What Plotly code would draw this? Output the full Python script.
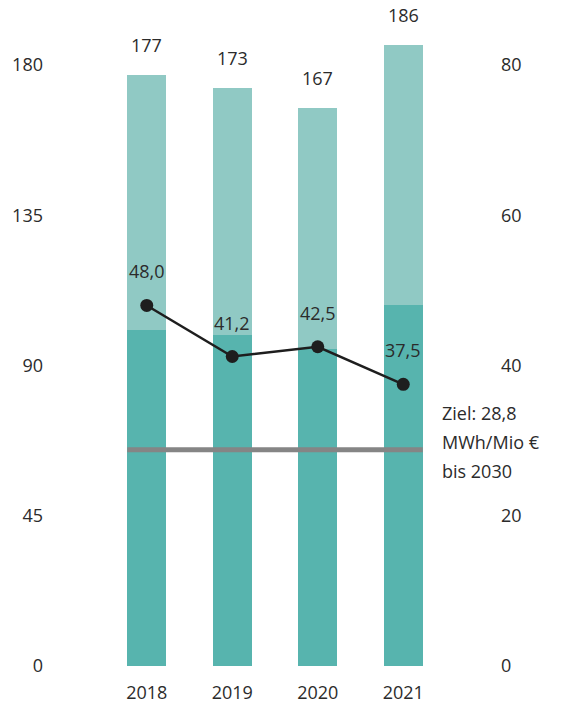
import plotly.graph_objects as go

years = ["2018", "2019", "2020", "2021"]
lower_part = [100.5, 99, 95, 108]
totals = [177, 173, 167, 186]
intensity = [48.0, 41.2, 42.5, 37.5]
target = 28.8
left_ticks = [0, 45, 90, 135, 180]
right_ticks = [0, 20, 40, 60, 80]
target_lines = ["Ziel: 28,8", "MWh/Mio €", "bis 2030"]

upper_part = [t - l for t, l in zip(totals, lower_part)]

FONT = "Open Sans"
TXT = "#2b2b2b"
DARK = "#57b4ae"
LIGHT = "#90c9c4"
BARGAP = 0.544
bar_w = 1 - BARGAP

fig = go.Figure()
fig.add_bar(x=years, y=lower_part, marker_color=DARK, marker_line_width=0, hoverinfo="skip")
fig.add_bar(x=years, y=upper_part, marker_color=LIGHT, marker_line_width=0, hoverinfo="skip")

fig.add_scatter(
    x=years, y=intensity, yaxis="y2", mode="lines+markers",
    line=dict(color="#1e1e1e", width=2.5),
    marker=dict(color="#1e1e1e", size=13),
    hoverinfo="skip",
)

annotations = []
for i, t in enumerate(totals):
    annotations.append(dict(x=i, y=t, xref="x", yref="y", text=str(t),
                            showarrow=False, yshift=30, yanchor="middle",
                            font=dict(family=FONT, size=18, color=TXT)))
for i, v in enumerate(intensity):
    annotations.append(dict(x=i, y=v, xref="x", yref="y2",
                            text=f"{v:.1f}".replace(".", ","),
                            showarrow=False, yshift=34, yanchor="middle",
                            font=dict(family=FONT, size=18, color=TXT)))
for i, line in enumerate(target_lines):
    annotations.append(dict(x=len(years) - 0.5, y=target, xref="x", yref="y2",
                            text=line, showarrow=False, xanchor="left",
                            xshift=-6, yanchor="middle", yshift=8 + 29 * (1 - i),
                            font=dict(family=FONT, size=18, color=TXT)))

fig.update_layout(
    width=567, height=704,
    margin=dict(l=104, r=121, t=15, b=38),
    barmode="stack", bargap=BARGAP,
    showlegend=False,
    plot_bgcolor="white", paper_bgcolor="white",
    font=dict(family=FONT, size=18, color=TXT),
    xaxis=dict(type="category", range=[-0.5, len(years) - 0.5], automargin=False,
               showgrid=False, showline=False, zeroline=False, ticks="",
               ticklabelstandoff=14, tickfont=dict(size=18, color=TXT)),
    yaxis=dict(range=[0, 195], tickvals=left_ticks, showgrid=False, zeroline=False,
               automargin=False, showline=False, ticklabelstandoff=60,
               tickfont=dict(size=18, color=TXT)),
    yaxis2=dict(range=[0, 195 * 80 / 180], tickvals=right_ticks, overlaying="y",
                side="right", showgrid=False, zeroline=False, showline=False,
                automargin=False, ticklabelstandoff=54,
                tickfont=dict(size=18, color=TXT)),
    shapes=[dict(type="line", xref="x", yref="y2",
                 x0=-bar_w / 2, x1=len(years) - 1 + bar_w / 2, y0=target, y1=target,
                 line=dict(color="#858585", width=5), layer="above")],
    annotations=annotations,
)
fig.write_html("out.html", config={"displayModeBar": False},
               post_script="document.body.style.margin='0';")
